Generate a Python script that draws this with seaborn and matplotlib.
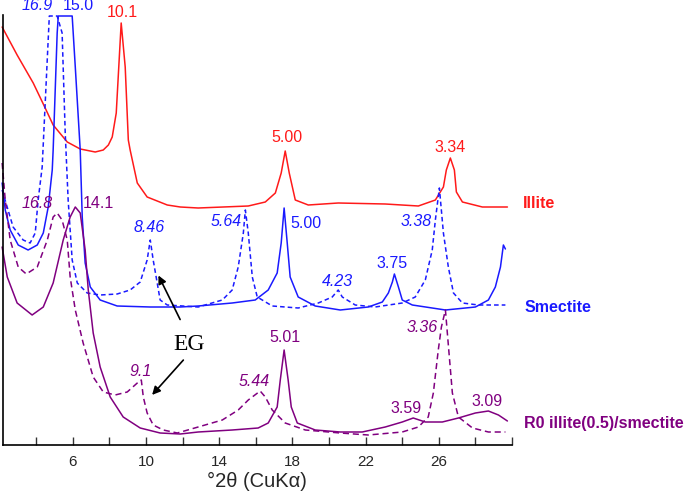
import numpy as np
import pandas as pd
import seaborn as sns
import matplotlib.pyplot as plt

# traces (2theta, relative intensity incl. stacking offset)
illite_x = [2.13, 2.95, 3.83, 4.38, 4.92, 5.69, 6.40, 7.22, 7.66, 7.94, 8.15, 8.37, 8.64, 8.86, 9.03,
            9.13, 9.52, 10.06, 11.16, 11.87, 12.85, 15.59, 16.52, 17.07, 17.39, 17.61, 17.83, 18.16,
            18.87, 20.51, 23.08, 24.89, 25.82, 26.26, 26.42, 26.64, 26.86, 26.97, 27.30, 28.39, 29.76]
illite_y = [418, 390, 362, 341, 320, 303, 296, 293, 295, 300, 308, 332, 422, 378, 305,
            295, 262, 248, 240, 238, 237, 239, 243, 252, 272, 294, 272, 245,
            240, 242, 241, 239, 245, 258, 275, 287, 275, 253, 243, 238, 238]

smec_x = [2.13, 2.30, 2.57, 3.01, 3.55, 4.05, 4.38, 4.65, 4.87, 4.92,
          5.14, 5.20, 5.96, 6.13, 6.40, 6.51, 6.67, 6.95, 7.49, 8.42,
          10.23, 11.87, 12.85, 14.71, 15.97, 16.68, 17.17, 17.39, 17.55, 17.72,
          17.88, 18.32, 19.25, 20.62, 22.15, 22.92, 23.25, 23.47, 23.58, 23.80,
          24.01, 24.56, 26.37, 28.01, 28.72, 29.10, 29.38, 29.54, 29.65]
smec_y = [262, 235, 215, 200, 195, 200, 212, 238, 275, 295,
          412, 429, 429, 378, 295, 228, 182, 158, 145, 139,
          138, 138, 139, 142, 145, 155, 172, 202, 237, 202,
          168, 148, 139, 135, 138, 143, 152, 163, 171, 158,
          145, 140, 135, 138, 145, 158, 178, 200, 196]

smec_eg_x = [2.13, 2.73, 3.28, 3.66, 3.94, 4.10, 4.32, 4.71, 5.14, 5.41,
             5.58, 5.74, 5.96, 6.24, 6.78, 7.49, 8.42, 9.13, 9.68, 10.06,
             10.23, 10.39, 10.61, 10.77, 11.16, 12.85, 14.17, 14.71, 15.04, 15.32,
             15.43, 15.59, 15.81, 16.08, 16.90, 18.32, 19.42, 20.18, 20.51, 20.73,
             21.44, 22.53, 24.01, 24.72, 25.27, 25.65, 25.82, 26.04, 26.26, 26.53,
             26.81, 27.30, 28.17, 29.65]
smec_eg_y = [255, 218, 205, 202, 212, 245, 278, 429, 429, 412,
             312, 245, 185, 162, 152, 150, 151, 155, 163, 185,
             205, 185, 162, 145, 140, 138, 145, 155, 178, 212,
             235, 212, 168, 148, 139, 137, 142, 148, 155, 148,
             140, 138, 142, 148, 165, 195, 225, 257, 212, 178,
             152, 142, 140, 140]

r0_x = [2.13, 2.41, 2.95, 3.77, 4.38, 4.92, 5.47, 5.85, 6.13, 6.40,
        6.67, 6.84, 7.11, 7.49, 8.04, 8.75, 9.68, 10.77, 11.87, 12.85,
        14.71, 16.13, 16.68, 17.17, 17.34, 17.55, 17.77, 17.94, 18.27, 19.25,
        20.62, 21.82, 23.08, 24.01, 24.61, 25.27, 26.20, 27.08, 28.01, 28.72,
        29.27, 29.76]
r0_y = [198, 168, 142, 130, 138, 162, 205, 228, 238, 232,
        195, 155, 112, 78, 48, 28, 17, 12, 11, 13,
        15, 17, 22, 38, 65, 95, 65, 38, 22, 15,
        13, 13, 18, 23, 27, 23, 23, 27, 32, 34,
        30, 24]

r0_eg_x = [2.13, 2.30, 2.57, 3.01, 3.45, 4.05, 4.60, 4.92, 5.14, 5.41,
           5.69, 5.85, 6.13, 6.56, 7.11, 7.66, 8.31, 8.97, 9.52, 9.74,
           9.85, 10.06, 10.39, 10.94, 11.71, 12.85, 14.17, 15.04, 15.59, 16.24,
           16.52, 16.90, 17.61, 18.71, 20.62, 22.15, 24.01, 24.89, 25.43, 25.71,
           25.98, 26.15, 26.37, 26.53, 26.75, 27.08, 27.85, 28.72, 29.65]
r0_eg_y = [282, 245, 205, 178, 171, 178, 205, 228, 232, 225,
           205, 168, 135, 102, 68, 53, 50, 53, 62, 65,
           48, 32, 20, 15, 12, 18, 25, 35, 45, 54,
           48, 35, 22, 15, 12, 10, 13, 18, 28, 52,
           95, 118, 135, 100, 52, 28, 17, 13, 13]

red = "#ff1a1a"
blue = "#1a1aff"
purple = "#800080"

sns.set_theme(style="white")
plt.rcParams['font.family'] = ['Liberation Sans', 'DejaVu Sans']

fig = plt.figure(figsize=(6.85, 4.94), dpi=100)
ax = fig.add_axes([2.5 / 685, 49 / 494, 509.3 / 685, 430 / 494])

curves = [
    (illite_x, illite_y, red, '-'),
    (smec_x, smec_y, blue, '-'),
    (smec_eg_x, smec_eg_y, blue, (0, (3, 2))),
    (r0_x, r0_y, purple, '-'),
    (r0_eg_x, r0_eg_y, purple, (0, (4, 2.5))),
]
for xs, ys, col, ls in curves:
    df = pd.DataFrame({'x': xs, 'y': ys})
    sns.lineplot(data=df, x='x', y='y', ax=ax, color=col, lw=1.1,
                 estimator=None, sort=False, linestyle=ls, clip_on=False)

ax.set_xlim(2.15, 30)
ax.set_ylim(0, 430)

# only left + bottom axis lines, ticks pointing inward
for s in ['top', 'right']:
    ax.spines[s].set_visible(False)
for s in ['left', 'bottom']:
    ax.spines[s].set_color('black')
    ax.spines[s].set_linewidth(1.2)
ax.set_yticks([])
ticks = list(range(4, 31, 2))
ax.set_xticks(ticks)
ax.set_xticklabels([str(t) if t in (6, 10, 14, 18, 22, 26) else '' for t in ticks], fontsize=11)
ax.tick_params(axis='x', direction='in', length=6, width=1, color='#333333', pad=7, bottom=True)
ax.set_xlabel('°2θ (CuKα)', fontsize=14.5, labelpad=2)
ax.set_ylabel('')

fs = 11.5
# d-spacing labels (Å)
labels = [
    ('16.9', 4.05, 439, blue, 'italic'), ('15.0', 6.29, 439, blue, 'normal'),
    ('10.1', 8.70, 432, red, 'normal'), ('5.00', 17.70, 307, red, 'normal'),
    ('3.34', 26.61, 297, red, 'normal'),
    ('16.8', 4.05, 241, purple, 'italic'), ('14.1', 7.38, 241, purple, 'normal'),
    ('8.46', 10.15, 217, blue, 'italic'), ('5.64', 14.39, 223, blue, 'italic'),
    ('5.00', 18.77, 222, blue, 'normal'), ('4.23', 20.46, 164, blue, 'italic'),
    ('3.75', 23.47, 182, blue, 'normal'), ('3.38', 24.78, 224, blue, 'italic'),
    ('9.1', 9.68, 73, purple, 'italic'), ('5.44', 15.93, 63, purple, 'italic'),
    ('5.01', 17.57, 107, purple, 'normal'), ('3.36', 25.11, 117, purple, 'italic'),
    ('3.59', 24.23, 37, purple, 'normal'), ('3.09', 28.66, 44, purple, 'normal'),
]
for txt, x, y, col, st in labels:
    ax.text(x, y, txt, color=col, fontsize=fs, style=st, ha='center', va='center')

# sample names
ax.text(30.58, 241, 'Illite', color=red, fontsize=11.5, fontweight='bold', va='center', ha='left')
ax.text(30.69, 138, 'Smectite', color=blue, fontsize=11.5, fontweight='bold', va='center', ha='left')
ax.text(30.64, 22, 'R0 illite(0.5)/smectite', color=purple, fontsize=11.5, fontweight='bold',
        va='center', ha='left')

# EG (ethylene glycol) annotation
ax.text(12.33, 100, 'EG', fontsize=17, family='Liberation Serif', ha='center', va='center', color='black')
ax.annotate('', xy=(10.61, 172), xytext=(11.93, 123),
            arrowprops=dict(arrowstyle='-|>', color='black', lw=1.2, mutation_scale=12))
ax.annotate('', xy=(10.23, 48), xytext=(12.14, 87),
            arrowprops=dict(arrowstyle='-|>', color='black', lw=1.2, mutation_scale=12))

fig.savefig('out.png', dpi=100)
